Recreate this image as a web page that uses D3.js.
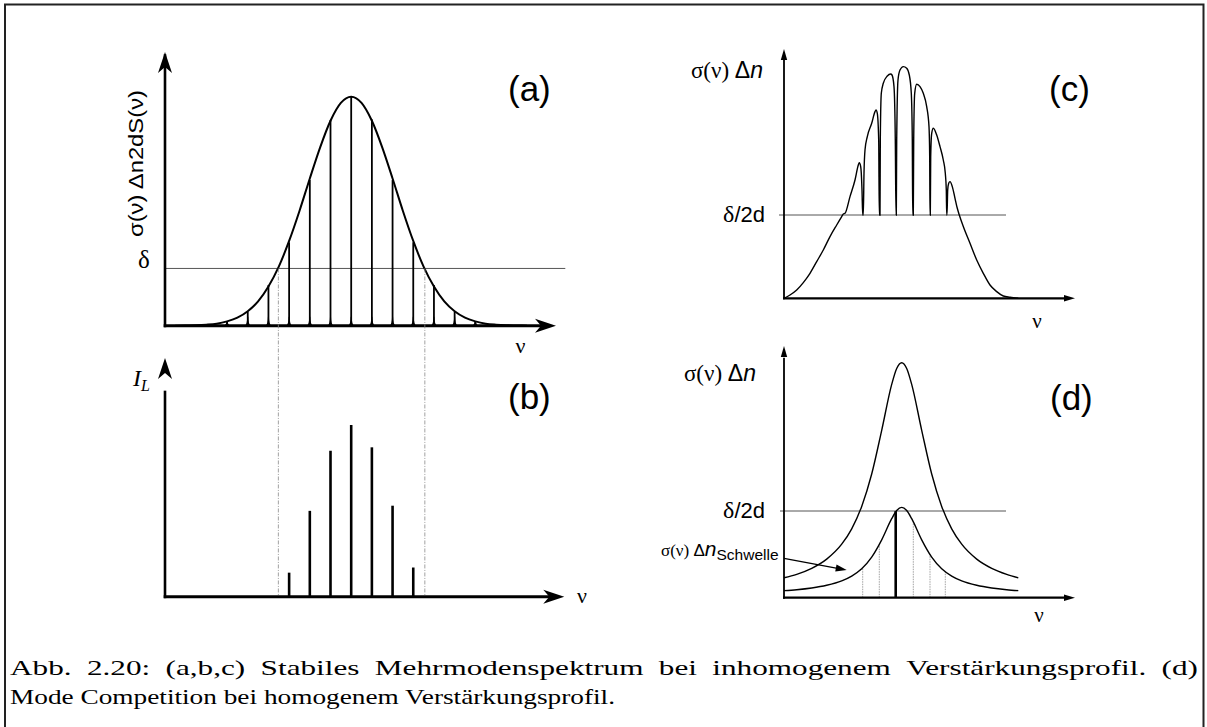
<!DOCTYPE html>
<html><head><meta charset="utf-8">
<script src="https://cdn.jsdelivr.net/npm/d3@7"></script>
<style>body{margin:0;background:#fff}svg{display:block}</style>
</head><body>
<svg id="fig" width="1207" height="727"></svg>
<script>
// ---------- data ----------
// (a) inhomogeneous gain profile, mode index k, gain in % of peak
const gaussK = [-8.5,-8,-7.5,-7,-6.5,-6,-5.5,-5,-4.5,-4,-3.5,-3,-2.5,-2,-1.5,-1,-0.5,0,0.5,1,1.5,2,2.5,3,3.5,4,4.5,5,5.5,6,6.5,7,7.5,8,8.5];
const gaussV = [0,0.1,0.2,0.45,0.9,1.9,3.5,6.3,10.6,17.1,25.8,37,50.1,64.3,77.9,89.5,97.3,100,97.3,89.5,77.9,64.3,50.1,37,25.8,17.1,10.6,6.3,3.5,1.9,0.9,0.45,0.2,0.1,0];
const modeK = [-6,-5,-4,-3,-2,-1,0,1,2,3,4,5,6];
const modeGain = [1.9,6.1,17.8,36.4,63.6,89.8,100,90.1,63.6,36.4,17.8,6.1,1.9];
const thresholdA = 25;
const dashK = [-3.52, 3.56];
// (b) laser intensities
const laserK = [-3,-2,-1,0,1,2,3];
const laserI = [14,50,85,100,87,53,17];
// (c) hole-burned gain profile (x, y in arbitrary units)
const burnX = [0,6,12.7,19.3,26,32.7,39.3,46,52.7,57.7,59.3,
  61,66,71,74.3,75.3,76.7,78,78.7,
  79.3,80,81,83.3,87.7,91,92,93.3,94.7,95.3,
  96,96.3,97.3,99.3,103.3,106.7,108,110,111.3,112,
  112.3,112.7,114,116,119.3,122.7,125.3,127.3,128.3,128.7,
  129.3,129.7,130.7,132.7,136,139.3,142.7,145,145.7,146,
  146.3,146.7,147.7,149.3,152.7,156,159.3,161.3,162.3,162.7,
  163,163.7,164.7,166,168.3,171,173.3,175.3,
  179.3,186,192.7,199.3,206,212.7,219.3,226,234.3];
const burnY = [0,3.3,8.3,15.7,25,36.7,48.3,61.7,73.3,81.7,84.3,
  85,101.7,118.3,133.3,135.7,131.7,108.3,83.3,
  83.3,125,148.3,161.7,175,186.7,188.3,185,158.3,83.3,
  83.3,158.3,205,215,222.3,224.3,223.3,211.7,158.3,83.3,
  83.3,158.3,218.3,228.3,231.7,230,223.3,205,158.3,83.3,
  83.3,158.3,205,214,211.7,205,191.7,171.7,141.7,83.3,
  83.3,141.7,165,170,163.3,151.7,138.3,125,108.3,83.3,
  83.3,108.3,115,116.7,111.7,100,90,83.3,
  71.7,55,38.3,25,13.3,6.7,2.3,1,0];
const thresholdC = 83.3;
// (d) homogeneous profiles
const homX = [0,12.7,27.7,42.7,57.7,67.7,77.7,87.7,97.7,107.7,112.7,117.7,122.7,127.7,137.7,147.7,157.7,167.7,177.7,192.7,207.7,222.7,234.3];
const upperV = [19.9,23.4,29.4,38.6,53.5,68.9,91.3,123.7,167.4,213.3,229.2,235,229.2,213.3,167.4,123.7,91.3,68.9,53.5,38.6,29.4,23.4,19.9];
const lowerV = [7.1,8.0,9.7,12.4,16.8,21.6,28.9,40.5,57.8,79.0,87.2,90.3,87.2,79.0,57.8,40.5,28.9,21.6,16.8,12.4,9.7,8.0,7.1];
const thresholdD = 86.7;
const modeDX = [78.7,95.3,129.3,146,161.3];
const modeDV = [30,53,76,43,26];
const laseDX = 111.7;
const arrowD = {x0:0, y0:39.3, x1:62.7, y1:27.7};

const captionLines = [
  "Abb. 2.20: (a,b,c) Stabiles Mehrmodenspektrum bei inhomogenem Verstärkungsprofil. (d)",
  "Mode Competition bei homogenem Verstärkungsprofil."
];

// ---------- drawing ----------
const svg = d3.select("#fig");
const SANS = "Liberation Sans, Arial, sans-serif";
const SERIF = "Liberation Serif, Times New Roman, serif";

// frame
svg.append("path").attr("d","M5,727 V4.5 H1203.5 V727").attr("fill","none").attr("stroke","#222").attr("stroke-width",2);

function arrowBig(g, x, y, dir){ // concave arrowhead, tip at (x,y)
  const L=21, W=7, n=6;
  let p;
  if(dir==="up") p=`M${x},${y} L${x+W},${y+L} L${x},${y+L-n} L${x-W},${y+L} Z`;
  else p=`M${x},${y} L${x-L},${y-W} L${x-L+n},${y} L${x-L},${y+W} Z`;
  g.append("path").attr("d",p).attr("fill","#000");
}
function arrowSmall(g, x, y, dir){
  const L=11, W=3.2;
  let p;
  if(dir==="up") p=`M${x},${y} L${x+W},${y+L} L${x-W},${y+L} Z`;
  else p=`M${x},${y} L${x-L},${y-W} L${x-L},${y+W} Z`;
  g.append("path").attr("d",p).attr("fill","#000");
}

// ---- panel (a)
const xA = d3.scaleLinear().domain([-9, 9.9]).range([165, 556]);
const yA = d3.scaleLinear().domain([0, 100]).range([325.7, 96.7]);
const gA = svg.append("g");
gA.append("line").attr("x1",xA(-9)).attr("x2",xA(10.35)).attr("y1",yA(thresholdA)).attr("y2",yA(thresholdA))
  .attr("stroke","#555").attr("stroke-width",1);
const yB = d3.scaleLinear().domain([0, 100]).range([596.7, 425]);
dashK.forEach(k=>{
  svg.append("line").attr("x1",xA(k)).attr("x2",xA(k)).attr("y1",yA(thresholdA)).attr("y2",yB(0))
    .attr("stroke","#8a8a8a").attr("stroke-width",0.8).attr("stroke-dasharray","4,1.5,1,1.5");
});
modeK.forEach((k,i)=>{
  const x = xA(k), y0 = yA(0), y1 = yA(modeGain[i]);
  const f = Math.min(9, y0-y1);
  gA.append("path").attr("d",`M${x-3.2},${y0} Q${x-0.6},${y0-1} ${x-0.5},${y0-f} L${x+0.5},${y0-f} Q${x+0.6},${y0-1} ${x+3.2},${y0} Z`).attr("fill","#000");
  gA.append("line").attr("x1",x).attr("x2",x).attr("y1",y0).attr("y2",y1).attr("stroke","#000").attr("stroke-width",1.8);
});
gA.append("path").datum(gaussK.map((k,i)=>[k,gaussV[i]]))
  .attr("d", d3.line().x(d=>xA(d[0])).y(d=>yA(d[1])).curve(d3.curveMonotoneX))
  .attr("fill","none").attr("stroke","#000").attr("stroke-width",2);
gA.append("line").attr("x1",xA(-9)).attr("x2",xA(-9)).attr("y1",yA(0)+1.5).attr("y2",yA(118.5)).attr("stroke","#000").attr("stroke-width",2.6);
gA.append("line").attr("x1",xA(-9)-1.3).attr("x2",xA(9.4)).attr("y1",yA(0)).attr("y2",yA(0)).attr("stroke","#000").attr("stroke-width",3);
arrowBig(gA, xA(-9), 52, "up");
arrowBig(gA, xA(9.9), yA(0), "right");
gA.append("text").attr("transform",`translate(142.5,163.5) rotate(-90)`).attr("text-anchor","middle")
  .attr("font-family",SANS).attr("font-size",21).attr("textLength",147).attr("lengthAdjust","spacingAndGlyphs")
  .text("σ(ν) Δn2dS(ν)");
gA.append("text").attr("x",144).attr("y",268).attr("text-anchor","middle").attr("font-family",SERIF).attr("font-size",25).text("δ");
gA.append("text").attr("x",520.5).attr("y",353).attr("text-anchor","middle").attr("font-family",SERIF).attr("font-size",22).text("ν");
gA.append("text").attr("x",508).attr("y",101).attr("font-family",SANS).attr("font-size",35).text("(a)");

// ---- panel (b)
const gB = svg.append("g");
laserK.forEach((k,i)=>{
  gB.append("line").attr("x1",xA(k)).attr("x2",xA(k)).attr("y1",yB(0)).attr("y2",yB(laserI[i]))
    .attr("stroke","#000").attr("stroke-width",2.6);
});
gB.append("line").attr("x1",xA(-9)).attr("x2",xA(-9)).attr("y1",yB(0)+1.5).attr("y2",yB(120)).attr("stroke","#000").attr("stroke-width",2.6);
gB.append("line").attr("x1",xA(-9)-1.3).attr("x2",xA(9.8)).attr("y1",yB(0)).attr("y2",yB(0)).attr("stroke","#000").attr("stroke-width",3);
arrowBig(gB, xA(-9), 358, "up");
arrowBig(gB, xA(10.3), yB(0), "right");
const il = gB.append("text").attr("x",133).attr("y",386).attr("font-family",SERIF).attr("font-style","italic").attr("font-size",24);
il.append("tspan").text("I");
il.append("tspan").attr("font-size",16).attr("dy",5).text("L");
gB.append("text").attr("x",582).attr("y",603).attr("text-anchor","middle").attr("font-family",SERIF).attr("font-size",22).text("ν");
gB.append("text").attr("x",508).attr("y",409).attr("font-family",SANS).attr("font-size",35).text("(b)");

// ---- panel (c)
const xC = d3.scaleLinear().domain([0, 291]).range([784, 1075]);
const yC = d3.scaleLinear().domain([0, 232]).range([298.3, 66.3]);
const gC = svg.append("g");
gC.append("line").attr("x1",779).attr("x2",1006).attr("y1",yC(thresholdC)).attr("y2",yC(thresholdC)).attr("stroke","#555").attr("stroke-width",1);
gC.append("path").datum(burnX.map((x,i)=>[x,burnY[i]]))
  .attr("d", d3.line().x(d=>xC(d[0])).y(d=>yC(d[1])).curve(d3.curveMonotoneX))
  .attr("fill","none").attr("stroke","#000").attr("stroke-width",1.4);
gC.append("line").attr("x1",xC(0)).attr("x2",xC(0)).attr("y1",yC(0)+1).attr("y2",yC(240)).attr("stroke","#000").attr("stroke-width",1.8);
gC.append("line").attr("x1",xC(0)-1).attr("x2",xC(282)).attr("y1",yC(0)).attr("y2",yC(0)).attr("stroke","#000").attr("stroke-width",2.2);
arrowSmall(gC, xC(0), 49, "up");
arrowSmall(gC, xC(291), yC(0), "right");
function sigmaDn(g, xEnd, y){
  const t = g.append("text").attr("x",xEnd).attr("y",y).attr("text-anchor","end").attr("font-size",23);
  t.append("tspan").attr("font-family",SERIF).text("σ(ν)  ");
  t.append("tspan").attr("font-family",SANS).text("Δ");
  t.append("tspan").attr("font-family",SANS).attr("font-style","italic").text("n");
}
function deltaLabel(g, xEnd, y){
  const t = g.append("text").attr("x",xEnd).attr("y",y).attr("text-anchor","end").attr("font-size",22);
  t.append("tspan").attr("font-family",SERIF).attr("font-size",24).text("δ");
  t.append("tspan").attr("font-family",SANS).text("/2d");
}
sigmaDn(gC, 763, 78);
deltaLabel(gC, 765, 222);
gC.append("text").attr("x",1037).attr("y",328).attr("text-anchor","middle").attr("font-family",SERIF).attr("font-size",21).text("ν");
gC.append("text").attr("x",1049).attr("y",101).attr("font-family",SANS).attr("font-size",35).text("(c)");

// ---- panel (d)
const xD = d3.scaleLinear().domain([0, 291]).range([784, 1075]);
const yD = d3.scaleLinear().domain([0, 251]).range([597.7, 346.7]);
const gD = svg.append("g");
gD.append("line").attr("x1",780).attr("x2",1006).attr("y1",yD(thresholdD)).attr("y2",yD(thresholdD)).attr("stroke","#555").attr("stroke-width",1);
modeDX.forEach((x,i)=>{
  gD.append("line").attr("x1",xD(x)).attr("x2",xD(x)).attr("y1",yD(0)).attr("y2",yD(modeDV[i]))
    .attr("stroke","#999").attr("stroke-width",0.9).attr("stroke-dasharray","1.5,1");
});
gD.append("line").attr("x1",xD(laseDX)).attr("x2",xD(laseDX)).attr("y1",yD(0)).attr("y2",yD(thresholdD))
  .attr("stroke","#000").attr("stroke-width",2.6);
const lineD = d3.line().x(d=>xD(d[0])).y(d=>yD(d[1])).curve(d3.curveMonotoneX);
gD.append("path").datum(homX.map((x,i)=>[x,upperV[i]])).attr("d",lineD).attr("fill","none").attr("stroke","#000").attr("stroke-width",1.4);
gD.append("path").datum(homX.map((x,i)=>[x,lowerV[i]])).attr("d",lineD).attr("fill","none").attr("stroke","#000").attr("stroke-width",1.4);
gD.append("line").attr("x1",xD(0)).attr("x2",xD(0)).attr("y1",yD(0)+1).attr("y2",yD(240)).attr("stroke","#000").attr("stroke-width",1.8);
gD.append("line").attr("x1",xD(0)-1).attr("x2",xD(282)).attr("y1",yD(0)).attr("y2",yD(0)).attr("stroke","#000").attr("stroke-width",2.2);
arrowSmall(gD, xD(0), 346, "up");
arrowSmall(gD, xD(291), yD(0), "right");
sigmaDn(gD, 756, 381);
deltaLabel(gD, 765, 518);
const ts = gD.append("text").attr("x",661).attr("y",556).attr("font-size",17);
ts.append("tspan").attr("font-family",SERIF).text("σ(ν) ");
ts.append("tspan").attr("font-family",SANS).text("Δ");
ts.append("tspan").attr("font-family",SANS).attr("font-style","italic").attr("font-size",21).text("n");
ts.append("tspan").attr("font-family",SANS).attr("font-size",15.5).attr("dy",4).text("Schwelle");
{
  const x0=xD(arrowD.x0), y0=yD(arrowD.y0), x1=xD(arrowD.x1), y1=yD(arrowD.y1);
  const a=Math.atan2(y1-y0,x1-x0), L=11, W=3.5;
  gD.append("line").attr("x1",x0).attr("y1",y0).attr("x2",x1-Math.cos(a)*8).attr("y2",y1-Math.sin(a)*8).attr("stroke","#000").attr("stroke-width",1.3);
  const bx=x1-Math.cos(a)*L, by=y1-Math.sin(a)*L;
  gD.append("path").attr("d",`M${x1},${y1} L${bx-Math.sin(a)*W},${by+Math.cos(a)*W} L${bx+Math.sin(a)*W},${by-Math.cos(a)*W} Z`).attr("fill","#000");
}
gD.append("text").attr("x",1039).attr("y",622).attr("text-anchor","middle").attr("font-family",SERIF).attr("font-size",21).text("ν");
gD.append("text").attr("x",1050).attr("y",410).attr("font-family",SANS).attr("font-size",35).text("(d)");

// ---- caption (justified first line, natural second line)
const CAP_FS = 22, capX = 10, capRight = 1198, line1Words = 1065;
const l2 = svg.append("text").attr("x",capX).attr("y",704).attr("font-family",SERIF).attr("font-size",CAP_FS)
  .attr("textLength",605).attr("lengthAdjust","spacingAndGlyphs").text(captionLines[1]);
const words = captionLines[0].split(" ");
const wEls = words.map(w=>{
  const t = svg.append("text").attr("y",675).attr("font-family",SERIF).attr("font-size",CAP_FS).text(w);
  return {t, nat: t.node().getComputedTextLength()};
});
const s1 = line1Words / d3.sum(wEls, d=>d.nat);
const gap = (capRight - capX - line1Words)/(words.length-1);
let cx = capX;
wEls.forEach(d=>{
  const wl = d.nat*s1;
  d.t.attr("x",cx).attr("textLength",wl).attr("lengthAdjust","spacingAndGlyphs");
  cx += wl + gap;
});
</script>
</body></html>
